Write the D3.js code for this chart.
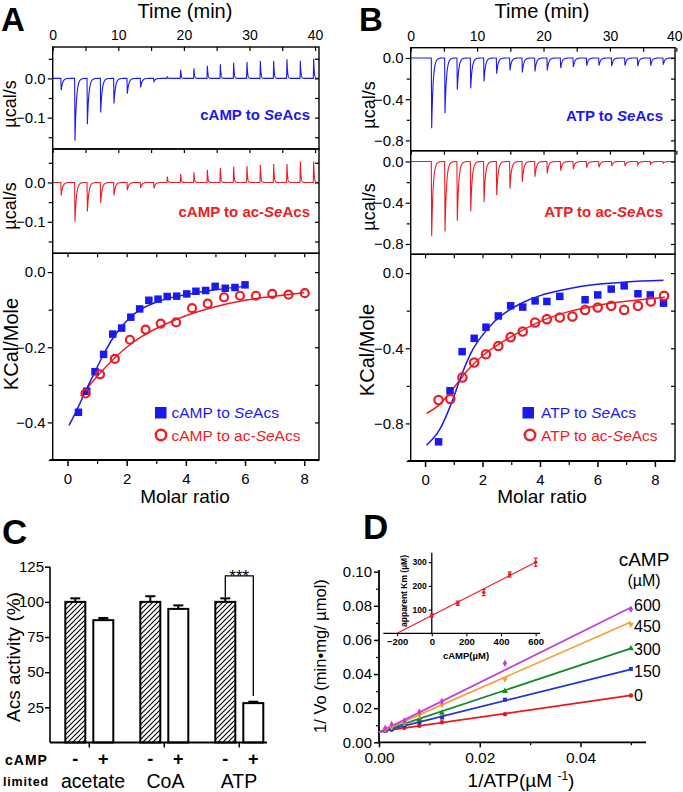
<!DOCTYPE html>
<html><head><meta charset="utf-8">
<script src="https://cdn.jsdelivr.net/npm/d3@7"></script>
<style>body{margin:0;background:#fff} svg{display:block} text{font-family:"Liberation Sans",Arial,Helvetica,sans-serif}</style>
</head><body>
<svg id="c" width="683" height="792"></svg>
<script>
// ================= DATA =================
// Panel A raw ITC (injection times, min; peak heights, µcal/s)
const tA = [1.3, 3.4, 5.29, 7.32, 9.35, 11.38, 13.41, 15.44, 17.48, 19.51, 21.54, 23.58, 25.56, 27.59, 29.62, 31.66, 33.69, 35.72, 37.76, 39.79];
const peakA_SeAcs = [-0.03, -0.159, -0.117, -0.087, -0.064, -0.039, -0.023, -0.008, 0.005, 0.022, 0.026, 0.032, 0.036, 0.04, 0.042, 0.044, 0.044, 0.049, 0.045, 0.05];
const peakA_acSeAcs = [-0.033, -0.1, -0.074, -0.052, -0.033, -0.02, -0.014, -0.015, 0.015, 0.022, 0.026, 0.032, 0.037, 0.04, 0.042, 0.045, 0.047, 0.047, 0.053, 0.053];
// Panel B raw ITC
const tB = [3.16, 5.17, 7.02, 9.04, 11.04, 12.95, 14.95, 16.81, 18.72, 20.57, 22.59, 24.49, 26.51, 28.36, 30.27, 32.27, 34.19, 36.14, 38.04];
const peakB_SeAcs = [-0.683, -0.537, -0.309, -0.293, -0.228, -0.153, -0.12, -0.14, -0.13, -0.12, -0.098, -0.088, -0.075, -0.075, -0.08, -0.075, -0.08, -0.075, -0.065];
const peakB_acSeAcs = [-0.726, -0.678, -0.574, -0.482, -0.393, -0.328, -0.262, -0.197, -0.148, -0.115, -0.089, -0.075, -0.059, -0.056, -0.043, -0.043, -0.033, -0.026, -0.016];
// Panel A integrated heats (molar ratio, kcal/mol)
const mrA_SeAcs = [0.37, 0.65, 0.93, 1.22, 1.53, 1.83, 2.14, 2.44, 2.75, 3.06, 3.37, 3.69, 4.03, 4.34, 4.67, 4.99, 5.33, 5.66, 6.0];
const hA_SeAcs = [-0.373, -0.317, -0.265, -0.219, -0.165, -0.149, -0.12, -0.098, -0.075, -0.072, -0.065, -0.064, -0.058, -0.051, -0.049, -0.038, -0.043, -0.041, -0.034];
const mrA_acSeAcs = [0.61, 1.1, 1.6, 2.11, 2.64, 3.15, 3.67, 4.21, 4.74, 5.29, 5.83, 6.37, 6.92, 7.47, 8.02];
const hA_acSeAcs = [-0.323, -0.272, -0.231, -0.18, -0.153, -0.137, -0.134, -0.096, -0.084, -0.067, -0.063, -0.063, -0.058, -0.06, -0.056];
const fitA_SeAcs_x = [0.05, 0.3, 0.6, 0.9, 1.2, 1.5, 1.8, 2.1, 2.5, 3.0, 3.5, 4.0, 5.0, 6.0];
const fitA_SeAcs_y = [-0.408, -0.37, -0.318, -0.27, -0.222, -0.18, -0.148, -0.122, -0.098, -0.08, -0.068, -0.06, -0.047, -0.038];
const fitA_acSeAcs_x = [0.45, 1.0, 1.5, 2.0, 2.5, 3.0, 4.0, 5.0, 6.0, 7.0, 8.0];
const fitA_acSeAcs_y = [-0.33, -0.278, -0.236, -0.2, -0.172, -0.15, -0.116, -0.092, -0.075, -0.064, -0.055];
// Panel B integrated heats
const mrB_SeAcs = [0.47, 0.87, 1.29, 1.71, 2.12, 2.55, 2.98, 3.4, 3.83, 4.24, 4.69, 5.57, 6.01, 6.48, 6.93, 7.41, 7.84, 8.3];
const hB_SeAcs = [-0.898, -0.626, -0.418, -0.347, -0.288, -0.228, -0.174, -0.181, -0.148, -0.151, -0.124, -0.142, -0.116, -0.085, -0.068, -0.11, -0.116, -0.16];
const mrB_acSeAcs = [0.47, 0.88, 1.3, 1.71, 2.12, 2.55, 2.98, 3.4, 3.83, 4.24, 4.69, 5.13, 5.57, 6.01, 6.48, 6.93, 7.41, 7.86, 8.32];
const hB_acSeAcs = [-0.676, -0.67, -0.555, -0.476, -0.432, -0.388, -0.341, -0.311, -0.263, -0.245, -0.236, -0.231, -0.196, -0.183, -0.174, -0.196, -0.174, -0.151, -0.121];
const fitB_SeAcs_x = [0.05, 0.5, 0.95, 1.3, 1.65, 2.0, 2.4, 2.9, 3.5, 4.0, 5.0, 6.0, 7.0, 8.3];
const fitB_SeAcs_y = [-0.916, -0.835, -0.68, -0.53, -0.41, -0.33, -0.26, -0.2, -0.15, -0.12, -0.083, -0.06, -0.047, -0.038];
const fitB_acSeAcs_x = [0.05, 0.5, 1.0, 1.5, 2.0, 2.5, 3.0, 4.0, 5.0, 6.0, 7.0, 8.35];
const fitB_acSeAcs_y = [-0.747, -0.70, -0.61, -0.515, -0.44, -0.385, -0.338, -0.258, -0.205, -0.172, -0.15, -0.128];
// Panel C
const groupsC = ["acetate", "CoA", "ATP"];
const actMinus = [100, 100, 100];
const actPlus = [87, 95, 28];
const errMinus = [2.5, 4, 2.5];
const errPlus = [1.5, 2.5, 1];
const tickC = [25, 50, 75, 100, 125];
// Panel D (Lineweaver-Burk)
const campD = [0, 150, 300, 450, 600];
const colorsD = ["#e8191e", "#1f35d8", "#16892a", "#f6a043", "#c13fe0"];
const invATP = [0.00125, 0.0025, 0.005, 0.008, 0.0125, 0.025, 0.05];
const invV = [
  [0.0068, 0.0074, 0.0085, 0.0097, 0.0118, 0.0165, 0.0275],
  [0.0068, 0.0078, 0.0095, 0.0118, 0.0145, 0.025, 0.043],
  [0.0072, 0.0085, 0.0105, 0.0135, 0.0172, 0.030, 0.055],
  [0.0075, 0.009, 0.0115, 0.0155, 0.022, 0.037, 0.069],
  [0.0083, 0.0105, 0.0125, 0.0178, 0.024, 0.0463, 0.078]
];
const fitD_x = [0, 0.05];
const fitD_y = [[0.0062, 0.0275], [0.006, 0.0428], [0.006, 0.055], [0.0058, 0.0705], [0.0058, 0.079]];
// Inset
const campIn = [0, 150, 300, 450, 600];
const kmIn = [75, 127, 172, 248, 300];
const kmErr = [7, 9, 13, 11, 17];
const fitIn_x = [-200, 600];
const fitIn_y = [0, 300];

// ================= DRAW =================
const svg = d3.select('#c');
const BLUE = "#1a1aee", RED = "#ec1c24";

function label(g, x, y, s, o = {}) {
  const t = g.append('text').attr('x', x).attr('y', y).attr('font-size', o.fs || 14)
    .attr('fill', o.fill || '#000').attr('text-anchor', o.anchor || 'start')
    .attr('font-weight', o.fw || 'normal');
  if (o.ls) t.attr('letter-spacing', o.ls);
  if (o.rot) t.attr('transform', `rotate(-90,${x},${y})`).attr('dy', '0.35em');
  t.text(s);
  return t;
}
function richLabel(g, x, y, parts, o) {
  const t = g.append('text').attr('x', x).attr('y', y).attr('font-size', o.fs).attr('fill', o.fill)
    .attr('text-anchor', o.anchor || 'start').attr('font-weight', o.fw || 'normal');
  parts.forEach(p => { const s = t.append('tspan').text(p[0]); if (p[1]) s.attr('font-style', 'italic'); });
  return t;
}
function styleAxis(sel, fs, sw) {
  sel.select('.domain').remove();
  sel.selectAll('.tick line').attr('stroke', '#000').attr('stroke-width', sw || 1.2);
  sel.selectAll('.tick text').attr('font-size', fs || 14).attr('fill', '#000')
    .attr('font-family', '"Liberation Sans",Arial,sans-serif');
}
function frameTicks(g, x, y, X0, X1, Y0, Y1, yMajor, yMinor, yFmt, xMajor, xMinor, topLabels) {
  g.append('g').attr('transform', `translate(${X0},0)`).call(d3.axisLeft(y).tickValues(yMajor).tickSize(5).tickPadding(2).tickFormat(yFmt)).call(styleAxis, 15);
  g.append('g').attr('transform', `translate(${X0},0)`).call(d3.axisLeft(y).tickValues(yMinor).tickSize(4).tickFormat('')).call(styleAxis);
  g.append('g').attr('transform', `translate(${X1},0)`).call(d3.axisLeft(y).tickValues(yMajor.concat(yMinor)).tickSize(4).tickFormat('')).call(styleAxis);
  const top = d3.axisTop(x).tickValues(xMajor).tickSize(-4).tickPadding(7);
  if (!topLabels) top.tickFormat('');
  const ta = g.append('g').attr('transform', `translate(0,${Y0})`).call(top).call(styleAxis, 14);
  // keep the last time label inside the page
  ta.selectAll('.tick text').each(function () {
    const px = +this.parentNode.getAttribute('transform').match(/translate\(([-\d.]+)/)[1];
    if (px > 670) d3.select(this).attr('text-anchor', 'end').attr('x', 683 - px - 0.5);
  });
  g.append('g').attr('transform', `translate(0,${Y0})`).call(d3.axisTop(x).tickValues(xMinor).tickSize(-4).tickFormat('')).call(styleAxis);
}

let clipId = 0;
function rawPanel(o) {
  const g = svg.append('g');
  const x = d3.scaleLinear(o.tDomain, [o.X0, o.X1]);
  const y = d3.scaleLinear(o.yDomain, [o.Y1, o.Y0]);
  const id = 'clip' + (clipId++);
  svg.append('clipPath').attr('id', id).append('rect').attr('x', o.X0).attr('y', o.Y0).attr('width', o.X1 - o.X0).attr('height', o.Y1 - o.Y0);
  const grid = d3.range(0, o.tDomain[1], 0.01);
  const vals = grid.map(t => {
    let v = 0;
    o.times.forEach((t0, i) => {
      const h = o.peaks[i], dt = t - t0;
      if (dt < -0.06) return;
      const tau = h < 0 ? 0.22 : 0.09;
      v += dt < 0 ? h * (dt + 0.06) / 0.06 : h * Math.exp(-dt / tau);
    });
    return [t, v];
  });
  g.append('path').attr('clip-path', `url(#${id})`).attr('d', d3.line().x(d => x(d[0])).y(d => y(d[1]))(vals))
    .attr('fill', 'none').attr('stroke', o.color).attr('stroke-width', 1.1);
  g.append('rect').attr('x', o.X0).attr('y', o.Y0).attr('width', o.X1 - o.X0).attr('height', o.Y1 - o.Y0)
    .attr('fill', 'none').attr('stroke', '#000').attr('stroke-width', 1.4);
  frameTicks(g, x, y, o.X0, o.X1, o.Y0, o.Y1, o.yMajor, o.yMinor, o.yFmt, [0, 10, 20, 30, 40], [5, 15, 25, 35], o.topLabels);
  return g;
}

function bindPanel(o) {
  const g = svg.append('g');
  const x = d3.scaleLinear(o.xDomain, [o.X0, o.X1]);
  const y = d3.scaleLinear(o.yDomain, [o.Y1, o.Y0]);
  g.append('rect').attr('x', o.X0).attr('y', o.Y0).attr('width', o.X1 - o.X0).attr('height', o.Y1 - o.Y0)
    .attr('fill', 'none').attr('stroke', '#000').attr('stroke-width', 1.4);
  g.append('line').attr('x1', o.X0 - 3).attr('x2', o.X1).attr('y1', o.Y1).attr('y2', o.Y1).attr('stroke', '#000').attr('stroke-width', 2.2);
  frameTicks(g, x, y, o.X0, o.X1, o.Y0, o.Y1, o.yMajor, o.yMinor, d3.format('.1f'), [0, 2, 4, 6, 8], [1, 3, 5, 7], false);
  g.append('g').attr('transform', `translate(0,${o.Y1})`).call(d3.axisBottom(x).tickValues([0, 2, 4, 6, 8]).tickSize(6).tickPadding(7).tickFormat(d3.format('d'))).call(styleAxis, 15, 1.5);
  g.append('g').attr('transform', `translate(0,${o.Y1})`).call(d3.axisBottom(x).tickValues([1, 3, 5, 7]).tickSize(4).tickFormat('')).call(styleAxis, 15, 1.2);
  const line = d3.line().curve(d3.curveMonotoneX).x(d => x(d[0])).y(d => y(d[1]));
  g.append('path').attr('d', line(d3.zip(o.fitRx, o.fitRy))).attr('fill', 'none').attr('stroke', RED).attr('stroke-width', 1.5);
  g.append('path').attr('d', line(d3.zip(o.fitBx, o.fitBy))).attr('fill', 'none').attr('stroke', BLUE).attr('stroke-width', 1.5);
  g.selectAll(null).data(d3.zip(o.bx, o.by)).join('rect')
    .attr('x', d => x(d[0]) - o.sq / 2).attr('y', d => y(d[1]) - o.sq / 2).attr('width', o.sq).attr('height', o.sq).attr('fill', BLUE);
  g.selectAll(null).data(d3.zip(o.rx, o.ry)).join('circle')
    .attr('cx', d => x(d[0])).attr('cy', d => y(d[1])).attr('r', o.cr).attr('fill', 'none').attr('stroke', RED).attr('stroke-width', 2.2);
  return { g, x, y };
}

// ---------- Panel A ----------
label(svg, 1, 31, 'A', { fs: 33, fw: 'bold' });
label(svg, 185, 18, 'Time (min)', { fs: 20, anchor: 'middle' });
rawPanel({ X0: 52.7, X1: 319, Y0: 47, Y1: 149, tDomain: [0, 40.6], yDomain: [-0.18, 0.08], times: tA, peaks: peakA_SeAcs, color: BLUE,
  yMajor: [0, -0.1], yMinor: [0.05, -0.05, -0.15], yFmt: d3.format('.1f'), topLabels: true });
rawPanel({ X0: 52.7, X1: 319, Y0: 149, Y1: 253.3, tDomain: [0, 40.6], yDomain: [-0.18, 0.085], times: tA, peaks: peakA_acSeAcs, color: RED,
  yMajor: [0, -0.1], yMinor: [0.05, -0.05, -0.15], yFmt: d3.format('.1f'), topLabels: false });
label(svg, 10, 104, 'µcal/s', { fs: 18, anchor: 'middle', rot: true });
label(svg, 10, 206, 'µcal/s', { fs: 18, anchor: 'middle', rot: true });
richLabel(svg, 310, 120, [['cAMP to '], ['Se', 1], ['Acs']], { fs: 15, fill: BLUE, anchor: 'end', fw: 'bold' });
richLabel(svg, 310, 217, [['cAMP to ac-'], ['Se', 1], ['Acs']], { fs: 15, fill: RED, anchor: 'end', fw: 'bold' });
bindPanel({ X0: 52.7, X1: 319, Y0: 253.3, Y1: 460, xDomain: [-0.5, 8.5], yDomain: [-0.5, 0.05],
  yMajor: [0, -0.2, -0.4], yMinor: [-0.1, -0.3, -0.5],
  bx: mrA_SeAcs, by: hA_SeAcs, rx: mrA_acSeAcs, ry: hA_acSeAcs, fitBx: fitA_SeAcs_x, fitBy: fitA_SeAcs_y, fitRx: fitA_acSeAcs_x, fitRy: fitA_acSeAcs_y, sq: 7.5, cr: 4 });
label(svg, 11, 344, 'KCal/Mole', { fs: 20, anchor: 'middle', rot: true });
label(svg, 185, 503, 'Molar ratio', { fs: 19, anchor: 'middle' });
svg.append('rect').attr('x', 155).attr('y', 407).attr('width', 11.5).attr('height', 11.5).attr('fill', BLUE);
svg.append('circle').attr('cx', 161).attr('cy', 435).attr('r', 5.2).attr('fill', 'none').attr('stroke', RED).attr('stroke-width', 2.5);
richLabel(svg, 171.5, 418, [['cAMP to '], ['Se', 1], ['Acs']], { fs: 15.5, fill: BLUE });
richLabel(svg, 171.5, 440.5, [['cAMP to ac-'], ['Se', 1], ['Acs']], { fs: 15.5, fill: RED });

// ---------- Panel B ----------
label(svg, 359, 31, 'B', { fs: 33, fw: 'bold' });
label(svg, 542, 18, 'Time (min)', { fs: 20, anchor: 'middle' });
rawPanel({ X0: 410.7, X1: 675, Y0: 47.7, Y1: 150.7, tDomain: [0, 39.8], yDomain: [-0.9, 0.1], times: tB, peaks: peakB_SeAcs, color: BLUE,
  yMajor: [0, -0.4, -0.8], yMinor: [-0.2, -0.6], yFmt: d3.format('.1f'), topLabels: true });
rawPanel({ X0: 410.7, X1: 675, Y0: 150.7, Y1: 254.3, tDomain: [0, 39.8], yDomain: [-0.9, 0.105], times: tB, peaks: peakB_acSeAcs, color: RED,
  yMajor: [0, -0.4, -0.8], yMinor: [-0.2, -0.6], yFmt: d3.format('.1f'), topLabels: false });
label(svg, 369, 105, 'µcal/s', { fs: 18, anchor: 'middle', rot: true });
label(svg, 369, 207, 'µcal/s', { fs: 18, anchor: 'middle', rot: true });
richLabel(svg, 663, 121, [['ATP to '], ['Se', 1], ['Acs']], { fs: 15, fill: BLUE, anchor: 'end', fw: 'bold' });
richLabel(svg, 663, 217, [['ATP to ac-'], ['Se', 1], ['Acs']], { fs: 15, fill: RED, anchor: 'end', fw: 'bold' });
bindPanel({ X0: 410.7, X1: 675, Y0: 254.3, Y1: 461, xDomain: [-0.5, 8.7], yDomain: [-1.0, 0.1],
  yMajor: [0, -0.4, -0.8], yMinor: [-0.2, -0.6, -1.0],
  bx: mrB_SeAcs, by: hB_SeAcs, rx: mrB_acSeAcs, ry: hB_acSeAcs, fitBx: fitB_SeAcs_x, fitBy: fitB_SeAcs_y, fitRx: fitB_acSeAcs_x, fitRy: fitB_acSeAcs_y, sq: 7.5, cr: 4.2 });
label(svg, 367, 350, 'KCal/Mole', { fs: 20, anchor: 'middle', rot: true });
label(svg, 542, 503, 'Molar ratio', { fs: 19, anchor: 'middle' });
svg.append('rect').attr('x', 522.5).attr('y', 407).attr('width', 11.5).attr('height', 11.5).attr('fill', BLUE);
svg.append('circle').attr('cx', 530).attr('cy', 435).attr('r', 5.2).attr('fill', 'none').attr('stroke', RED).attr('stroke-width', 2.5);
richLabel(svg, 541, 418, [['ATP to '], ['Se', 1], ['Acs']], { fs: 15.5, fill: BLUE });
richLabel(svg, 541, 440.5, [['ATP to ac-'], ['Se', 1], ['Acs']], { fs: 15.5, fill: RED });

// ---------- Panel C ----------
label(svg, 2, 544, 'C', { fs: 35, fw: 'bold' });
(function () {
  const g = svg.append('g');
  const defs = svg.append('defs');
  const pat = defs.append('pattern').attr('id', 'hatch').attr('patternUnits', 'userSpaceOnUse').attr('width', 5).attr('height', 5);
  pat.append('rect').attr('width', 5).attr('height', 5).attr('fill', '#fff');
  pat.append('path').attr('d', 'M-1,6 L6,-1 M-1,1 L1,-1 M4,6 L6,4').attr('stroke', '#000').attr('stroke-width', 1.1);
  const y = d3.scaleLinear([0, 125], [742.5, 566.7]);
  const xg = d3.scaleBand(groupsC, [51.8, 276.8]);
  const xs = d3.scaleBand(['-', '+'], [-28, 28]).paddingInner(0.286).paddingOuter(0.143);
  const cx = (i, k) => xg(groupsC[i]) + xg.bandwidth() / 2 + xs(k) + xs.bandwidth() / 2;
  g.append('g').attr('transform', 'translate(50,0)').call(d3.axisLeft(y).tickValues(tickC).tickSize(5).tickPadding(1)).call(styleAxis, 15, 1.5);
  g.append('line').attr('x1', 50).attr('x2', 50).attr('y1', y(0)).attr('y2', y(125)).attr('stroke', '#000').attr('stroke-width', 1.6);
  groupsC.forEach((grp, i) => {
    [['-', actMinus[i], errMinus[i], 'url(#hatch)'], ['+', actPlus[i], errPlus[i], '#fff']].forEach(([k, v, e, f]) => {
      const c = cx(i, k), w = xs.bandwidth();
      g.append('line').attr('x1', c).attr('x2', c).attr('y1', y(v)).attr('y2', y(v + e)).attr('stroke', '#000').attr('stroke-width', 2);
      g.append('line').attr('x1', c - 5).attr('x2', c + 5).attr('y1', y(v + e)).attr('y2', y(v + e)).attr('stroke', '#000').attr('stroke-width', 2);
      g.append('rect').attr('x', c - w / 2).attr('y', y(v)).attr('width', w).attr('height', y(0) - y(v)).attr('fill', f).attr('stroke', '#000').attr('stroke-width', 2);
      label(g, c, 765, k, { fs: 18, fw: 'bold', anchor: 'middle' });
    });
  });
  g.append('line').attr('x1', 50).attr('x2', 267).attr('y1', y(0)).attr('y2', y(0)).attr('stroke', '#000').attr('stroke-width', 2);
  g.append('g').attr('transform', `translate(0,${y(0)})`).call(d3.axisBottom(xg).tickSize(5).tickFormat('')).call(styleAxis, 14, 1.5);
  const l = cx(2, '-'), r = cx(2, '+');
  g.append('path').attr('d', `M${l},${y(actMinus[2] + errMinus[2] + 1)} V${y(118.5)} H${r} V${y(actPlus[2] + errPlus[2] + 4)}`)
    .attr('fill', 'none').attr('stroke', '#000').attr('stroke-width', 1.3);
  label(g, (l + r) / 2, 582, '***', { fs: 17, anchor: 'middle' });
  label(g, 5, 764.5, 'cAMP', { fs: 14, fw: 'bold', ls: 1 });
  label(g, 3, 786, 'limited', { fs: 12.5, fw: 'bold', ls: 0.8 });
  [93, 165.5, 239].forEach((px, i) => label(g, px, 788, groupsC[i], { fs: 19.5, anchor: 'middle' }));
  label(g, 13, 657, 'Acs activity (%)', { fs: 19, anchor: 'middle', rot: true });
})();

// ---------- Panel D ----------
label(svg, 363, 539, 'D', { fs: 35, fw: 'bold' });
(function () {
  const g = svg.append('g');
  const x = d3.scaleLinear([0, 0.053], [379, 646]);
  const y = d3.scaleLinear([0, 0.10], [742.3, 571.7]);
  g.append('g').attr('transform', 'translate(379,0)').call(d3.axisLeft(y).tickValues([0, 0.02, 0.04, 0.06, 0.08, 0.10]).tickSize(5).tickPadding(2).tickFormat(d3.format('.2f'))).call(styleAxis, 15, 1.5);
  g.append('g').attr('transform', 'translate(379,0)').call(d3.axisLeft(y).tickValues([0.01, 0.03, 0.05, 0.07, 0.09]).tickSize(3).tickFormat('')).call(styleAxis, 15, 1.2);
  g.append('g').attr('transform', 'translate(0,742.3)').call(d3.axisBottom(x).tickValues([0, 0.02, 0.04]).tickSize(5).tickPadding(5).tickFormat(d3.format('.2f'))).call(styleAxis, 15.5, 1.5);
  g.append('g').attr('transform', 'translate(0,742.3)').call(d3.axisBottom(x).tickValues([0.01, 0.03, 0.05]).tickSize(3).tickFormat('')).call(styleAxis, 15, 1.2);
  g.append('line').attr('x1', 379).attr('x2', 379).attr('y1', 742.3).attr('y2', 570).attr('stroke', '#000').attr('stroke-width', 1.8);
  g.append('line').attr('x1', 378).attr('x2', 646).attr('y1', 742.3).attr('y2', 742.3).attr('stroke', '#000').attr('stroke-width', 1.8);
  const syms = [d3.symbolCircle, d3.symbolSquare, d3.symbolTriangle, d3.symbolTriangle, d3.symbolDiamond];
  const labOff = [6, 7.4, 6.2, 9.6, 3.8];
  campD.forEach((c, i) => {
    g.append('line').attr('x1', x(fitD_x[0])).attr('x2', x(fitD_x[1])).attr('y1', y(fitD_y[i][0])).attr('y2', y(fitD_y[i][1]))
      .attr('stroke', colorsD[i]).attr('stroke-width', 1.8);
  });
  campD.forEach((c, i) => {
    g.selectAll(null).data(d3.zip(invATP, invV[i])).join('path')
      .attr('d', d3.symbol(syms[i], 16))
      .attr('transform', d => `translate(${x(d[0])},${y(d[1])})` + (i === 3 ? ' rotate(180)' : ''))
      .attr('fill', colorsD[i]);
    label(g, 634, y(fitD_y[i][1]) + labOff[i], String(c), { fs: 16 });
  });
  label(g, 644, 566, 'cAMP', { fs: 19, anchor: 'middle' });
  label(g, 644, 585.5, '(µM)', { fs: 16, anchor: 'middle' });
  label(g, 320, 656, '1/ Vo (min•mg/ µmol)', { fs: 16.5, anchor: 'middle', rot: true });
  const xl = g.append('text').attr('x', 521).attr('y', 787).attr('font-size', 19).attr('text-anchor', 'middle');
  xl.append('tspan').text('1/ATP(µM ');
  xl.append('tspan').text('-1').attr('font-size', 12).attr('dy', -7);
  xl.append('tspan').text(')').attr('dy', 7);

  // inset
  const xi = d3.scaleLinear([-280, 625], [383.3, 540]);
  const yi = d3.scaleLinear([0, 340], [633.3, 552.7]);
  g.append('line').attr('x1', xi(-280)).attr('x2', xi(625)).attr('y1', yi(0)).attr('y2', yi(0)).attr('stroke', '#000').attr('stroke-width', 1.3);
  g.append('line').attr('x1', xi(0)).attr('x2', xi(0)).attr('y1', yi(0)).attr('y2', yi(340)).attr('stroke', '#000').attr('stroke-width', 1.3);
  g.append('g').attr('transform', `translate(0,${yi(0)})`).call(d3.axisBottom(xi).tickValues([-200, 0, 200, 400, 600]).tickSize(3).tickPadding(2).tickFormat(d3.format('d'))).call(styleAxis, 9.5, 1.1);
  g.append('g').attr('transform', `translate(${xi(0)},0)`).call(d3.axisLeft(yi).tickValues([100, 200, 300]).tickSize(3).tickPadding(2).tickFormat(d3.format('d'))).call(styleAxis, 8.5, 1.1);
  g.selectAll('.tick text').filter(function () { return +this.getAttribute('font-size') < 10; }).attr('font-weight', 'bold');
  g.append('line').attr('x1', xi(fitIn_x[0])).attr('x2', xi(fitIn_x[1])).attr('y1', yi(fitIn_y[0])).attr('y2', yi(fitIn_y[1])).attr('stroke', RED).attr('stroke-width', 1.2);
  campIn.forEach((c, i) => {
    const px = xi(c);
    g.append('line').attr('x1', px).attr('x2', px).attr('y1', yi(kmIn[i] - kmErr[i])).attr('y2', yi(kmIn[i] + kmErr[i])).attr('stroke', RED).attr('stroke-width', 1.2);
    [kmIn[i] - kmErr[i], kmIn[i] + kmErr[i]].forEach(v => g.append('line').attr('x1', px - 2).attr('x2', px + 2).attr('y1', yi(v)).attr('y2', yi(v)).attr('stroke', RED).attr('stroke-width', 1.2));
    g.append('circle').attr('cx', px).attr('cy', yi(kmIn[i])).attr('r', 1.8).attr('fill', RED);
  });
  label(g, 466, 659, 'cAMP(µM)', { fs: 9.5, anchor: 'middle', fw: 'bold' });
  label(g, 404, 591, 'apparent Km (µM)', { fs: 8.5, anchor: 'middle', rot: true, fw: 'bold' });
})();
</script>
</body></html>
